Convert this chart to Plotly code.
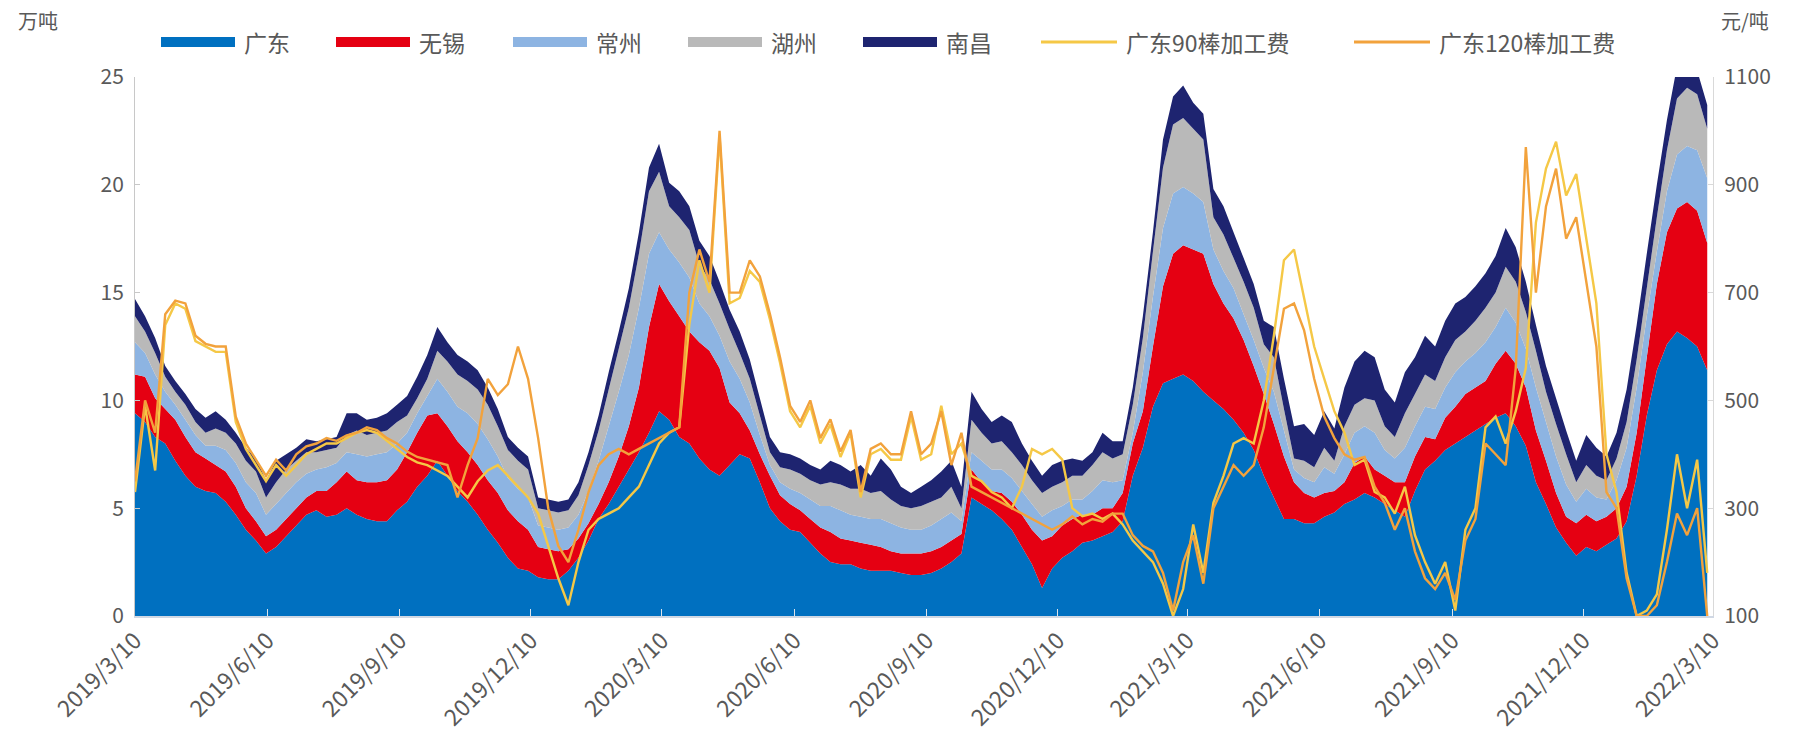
import pandas as pd
import plotly.graph_objects as go

# Weekly observation dates
weeks = pd.date_range("2019-03-10", periods=157, freq="7D")

# Inventory by region, 万吨 (stacked areas, bottom to top)
guangdong = [
    9.4, 9.0, 8.3, 8.0, 7.2, 6.5, 6.0, 5.8, 5.7, 5.3,
    4.7, 4.0, 3.5, 2.9, 3.2, 3.7, 4.2, 4.7, 4.9, 4.6,
    4.7, 5.0, 4.7, 4.5, 4.4, 4.4, 4.9, 5.3, 6.0, 6.5,
    7.2, 6.5, 5.8, 5.3, 4.7, 4.0, 3.4, 2.7, 2.2, 2.1,
    1.8, 1.7, 1.7, 2.1, 2.7, 3.5, 4.5, 5.2, 6.0, 6.8,
    7.6, 8.5, 9.5, 9.1, 8.3, 8.0, 7.3, 6.8, 6.5, 7.0,
    7.5, 7.3, 6.2, 5.0, 4.4, 4.0, 3.9, 3.4, 2.9, 2.5,
    2.4, 2.4, 2.2, 2.1, 2.1, 2.1, 2.0, 1.9, 1.9, 2.0,
    2.2, 2.5, 2.9, 5.5, 5.2, 4.9, 4.5, 4.0, 3.2, 2.4,
    1.3, 2.2, 2.7, 3.0, 3.4, 3.5, 3.7, 3.9, 4.4, 6.5,
    7.8, 9.7, 10.8, 11.0, 11.2, 10.9, 10.4, 10.0, 9.6, 9.1,
    8.5, 7.7, 6.5, 5.5, 4.5, 4.5, 4.3, 4.3, 4.6, 4.8,
    5.2, 5.4, 5.7, 5.5, 5.2, 4.9, 4.6, 5.8, 6.8, 7.2,
    7.7, 8.0, 8.3, 8.6, 8.9, 9.2, 9.4, 8.8, 7.9, 6.2,
    5.2, 4.1, 3.4, 2.8, 3.2, 3.0, 3.3, 3.6, 4.4, 6.5,
    9.3, 11.4, 12.6, 13.2, 12.9, 12.5, 11.4,
]
wuxi = [
    1.8, 2.1, 1.8, 1.6, 1.9, 1.8, 1.6, 1.5, 1.3, 1.4,
    1.3, 1.0, 0.9, 0.8, 0.8, 0.8, 0.8, 0.8, 0.9, 1.2,
    1.5, 1.7, 1.6, 1.7, 1.8, 1.9, 1.9, 2.3, 2.5, 2.8,
    2.2, 2.3, 2.3, 2.3, 2.3, 2.3, 2.3, 2.2, 2.2, 1.9,
    1.4, 1.4, 1.3, 1.0, 0.9, 0.8, 0.7, 1.0, 1.4, 2.0,
    3.0, 4.9, 5.9, 5.5, 5.6, 5.2, 5.4, 5.5, 5.0, 2.9,
    1.9, 1.3, 1.3, 1.5, 1.2, 1.2, 1.0, 1.1, 1.2, 1.4,
    1.2, 1.1, 1.2, 1.2, 1.1, 0.9, 0.9, 1.0, 1.0, 1.0,
    1.0, 1.0, 0.9, 1.3, 1.0, 0.9, 1.2, 1.3, 1.5, 1.6,
    2.2, 1.5, 1.5, 1.5, 1.3, 1.2, 1.3, 1.1, 1.3, 1.5,
    1.7, 2.8, 4.5, 5.8, 6.0, 6.1, 6.4, 5.4, 4.9, 4.7,
    4.3, 3.9, 3.8, 3.4, 2.9, 1.7, 1.4, 1.2, 1.1, 1.0,
    1.0, 1.7, 1.7, 1.3, 1.3, 1.3, 1.6, 1.6, 1.5, 1.0,
    1.5, 1.7, 2.0, 2.0, 2.0, 2.5, 2.9, 2.9, 2.7, 2.4,
    2.0, 1.6, 1.2, 1.5, 1.5, 1.4, 1.3, 1.4, 1.6, 2.0,
    2.7, 4.0, 5.2, 5.7, 6.3, 6.3, 5.9,
]
changzhou = [
    1.5, 1.1, 1.1, 0.8, 0.7, 0.8, 0.8, 0.6, 0.9, 1.0,
    1.1, 1.2, 1.3, 1.0, 1.2, 1.2, 1.2, 1.1, 1.0, 1.1,
    0.9, 0.9, 1.2, 1.2, 1.3, 1.3, 1.2, 0.9, 0.9, 0.9,
    1.6, 1.6, 1.6, 1.8, 1.9, 1.9, 1.7, 1.5, 1.5, 1.5,
    1.0, 1.0, 1.0, 1.0, 1.1, 1.5, 2.0, 2.6, 3.0, 3.3,
    3.7, 3.4, 2.4, 2.4, 2.5, 2.5, 1.8, 1.6, 1.5, 1.9,
    1.6, 1.3, 0.9, 0.5, 0.6, 0.7, 0.8, 0.9, 1.0, 1.2,
    1.3, 1.2, 1.2, 1.2, 1.3, 1.3, 1.2, 1.1, 1.1, 1.2,
    1.3, 1.3, 0.6, 0.8, 1.0, 1.0, 1.1, 1.1, 1.1, 1.2,
    1.1, 1.2, 0.9, 0.9, 0.7, 1.1, 1.3, 1.2, 0.6, 0.5,
    1.8, 2.3, 2.7, 2.8, 2.7, 2.6, 2.4, 1.6, 1.5, 1.4,
    1.2, 1.2, 1.2, 1.5, 1.2, 0.6, 0.7, 0.7, 1.2, 0.8,
    1.3, 1.4, 1.4, 1.7, 1.2, 1.1, 1.6, 1.4, 1.4, 1.4,
    1.4, 1.6, 1.5, 1.6, 1.8, 1.7, 2.0, 1.9, 1.8, 2.0,
    1.8, 1.7, 1.5, 1.0, 1.2, 1.1, 0.8, 1.3, 1.8, 2.1,
    1.9, 1.5, 1.9, 2.5, 2.6, 2.8, 3.0,
]
huzhou = [
    1.2, 1.0, 1.0, 0.7, 0.6, 0.7, 0.6, 0.6, 0.8, 0.8,
    0.9, 1.0, 1.0, 0.8, 1.0, 1.1, 1.0, 1.0, 0.8, 0.8,
    0.7, 0.8, 1.1, 1.0, 1.0, 1.0, 1.0, 0.8, 0.7, 0.8,
    1.3, 1.4, 1.5, 1.5, 1.6, 1.6, 1.4, 1.3, 1.3, 1.3,
    0.8, 0.8, 0.8, 0.8, 0.9, 1.2, 1.4, 1.7, 2.0, 2.2,
    2.5, 2.9, 2.8, 2.0, 2.1, 2.2, 1.8, 1.7, 1.5, 1.5,
    1.2, 1.1, 0.9, 0.6, 0.7, 0.9, 0.9, 0.9, 1.0, 1.1,
    1.2, 1.2, 1.3, 1.2, 1.3, 1.1, 1.0, 1.0, 1.1, 1.1,
    1.0, 1.2, 0.6, 1.5, 1.3, 1.2, 1.3, 1.2, 1.2, 1.1,
    1.1, 1.1, 1.1, 1.1, 1.1, 1.2, 1.3, 1.1, 1.2, 1.3,
    1.6, 2.1, 2.8, 3.2, 3.2, 3.0, 2.9, 1.5, 1.7, 1.4,
    1.5, 1.5, 1.1, 1.6, 1.0, 0.5, 0.8, 0.7, 0.9, 0.6,
    1.3, 1.3, 1.3, 1.5, 1.1, 1.0, 1.6, 1.5, 1.5, 1.3,
    1.4, 1.5, 1.4, 1.5, 1.6, 1.6, 1.9, 1.9, 1.7, 1.7,
    1.4, 1.5, 1.4, 0.9, 1.1, 1.0, 0.9, 1.0, 1.2, 1.3,
    1.3, 1.6, 1.9, 2.6, 2.7, 2.6, 2.3,
]
nanchang = [
    0.8, 0.7, 0.7, 0.5, 0.5, 0.5, 0.6, 0.7, 0.8, 0.6,
    0.5, 0.6, 0.6, 0.8, 1.0, 0.7, 0.6, 0.6, 0.5, 0.5,
    0.5, 1.0, 0.8, 0.7, 0.7, 0.8, 0.8, 0.9, 1.0, 1.1,
    1.1, 0.9, 0.9, 0.9, 0.9, 0.8, 0.8, 0.6, 0.6, 0.6,
    0.5, 0.5, 0.5, 0.5, 0.6, 0.6, 0.7, 0.8, 0.8, 0.9,
    1.0, 1.1, 1.3, 1.1, 1.2, 1.1, 1.1, 1.1, 1.0, 0.9,
    1.0, 0.9, 0.8, 0.7, 0.7, 0.7, 0.7, 0.7, 0.7, 1.0,
    0.9, 0.8, 1.1, 0.8, 1.5, 1.4, 0.9, 0.7, 0.9, 1.0,
    1.2, 1.2, 1.0, 1.3, 1.1, 1.0, 1.2, 1.4, 1.0, 0.9,
    0.8, 1.0, 1.0, 0.8, 0.7, 0.6, 0.9, 0.8, 0.6, 0.8,
    1.0, 0.9, 1.3, 1.3, 1.5, 1.2, 1.2, 1.3, 1.3, 1.2,
    1.1, 1.1, 1.1, 1.4, 1.4, 1.5, 1.7, 1.5, 1.7, 1.5,
    1.8, 2.0, 2.2, 2.0, 1.7, 1.6, 1.9, 1.7, 1.8, 1.6,
    1.7, 1.7, 1.6, 1.6, 1.6, 1.7, 1.8, 1.6, 1.4, 1.2,
    1.2, 1.2, 1.1, 1.0, 1.4, 1.3, 1.1, 1.2, 1.5, 1.6,
    1.6, 1.5, 1.4, 1.5, 1.3, 1.1, 1.1,
]

# Processing fees, 元/吨 (right axis)
fee_90 = [
    330, 490, 370, 640, 680, 670, 610, 600, 590, 590, 460, 410, 380, 350, 380, 360,
    380, 400, 410, 420, 420, 430, 440, 445, 440, 425, 410, 395, 385, 380, 370, 360, 340, 320,
    350, 370, 380, 360, 340, 320, 290, 230, 170, 120, 200, 260, 280, 290, 300, 320, 340, 380, 420,
    440, 450, 640, 760, 700, 990, 680, 690, 740, 720, 650, 570, 480, 450, 490, 420, 455, 395, 440,
    320, 400, 410, 390, 390, 470, 390, 400,
    490, 400, 420, 360, 350, 330, 320, 300, 340, 410, 400, 410, 390, 300, 285, 290, 280, 290,
    270, 240, 220, 200, 160, 100, 150,
    270, 180, 310, 360, 420, 430, 420, 500, 620, 760, 780, 690, 600, 540, 480, 440, 380, 390,
    330, 320, 290, 340, 250, 200, 160, 200, 110, 260, 300, 450, 470, 420,
    480, 560, 830, 930, 980, 880, 920, 800, 680, 400, 330, 180, 100, 110, 140, 260, 400, 300,
    390, 180,
]
fee_120 = [
    350, 500, 440, 660, 685, 680, 620, 605, 600, 600, 470, 420, 390, 360, 390, 370,
    400, 415, 420, 430, 425, 435, 440, 450, 445, 430, 420, 405, 395, 390, 385, 380, 320, 380,
    430, 540, 510, 530, 600, 540, 430, 300, 230, 200, 260, 330, 380, 400, 410, 400, 410, 420, 430,
    440, 450, 700, 780, 720, 1000, 700, 700, 760, 730, 660, 580, 490, 460, 500, 430, 465, 405, 445,
    330, 410, 420, 400, 400, 480, 400, 420,
    480, 380, 440, 340, 330, 320, 310, 300, 290, 280, 270, 260, 270, 285, 270, 280, 275, 290,
    290, 250, 230, 220, 180, 110, 200,
    250, 160, 300, 340, 380, 360, 380, 450, 560, 670, 680, 630, 540, 470, 430, 400, 390, 395,
    340, 310, 260, 300, 220, 170, 150, 180, 130, 240, 280, 420, 400, 380,
    560, 970, 700, 860, 930, 800, 840, 720, 600, 330, 300, 170, 100, 100, 120, 200, 290, 250,
    300, 100,
]

tick_dates = ["2019-03-10", "2019-06-10", "2019-09-10", "2019-12-10", "2020-03-10",
              "2020-06-10", "2020-09-10", "2020-12-10", "2021-03-10", "2021-06-10",
              "2021-09-10", "2021-12-10", "2022-03-10"]
tick_labels = ["2019/3/10", "2019/6/10", "2019/9/10", "2019/12/10", "2020/3/10",
               "2020/6/10", "2020/9/10", "2020/12/10", "2021/3/10", "2021/6/10",
               "2021/9/10", "2021/12/10", "2022/3/10"]

stock_series = [
    ("广东", guangdong, "#0070C0"),
    ("无锡", wuxi, "#E50012"),
    ("常州", changzhou, "#8DB4E2"),
    ("湖州", huzhou, "#B9B9B9"),
    ("南昌", nanchang, "#1E2470"),
]
fee_series = [
    ("广东90棒加工费", fee_90, "#F5C846"),
    ("广东120棒加工费", fee_120, "#F2A23C"),
]

FONT = "Noto Sans CJK SC, Noto Sans, sans-serif"
GREY = "#595959"

# Canvas and plot-area geometry in pixels
W, H = 1799, 747
PL, PR, PT, PB = 135, 1713, 77, 616


def px_x(px):
    return (px - PL) / (PR - PL)


def px_y(py):
    return (PB - py) / (PB - PT)


fig = go.Figure()
for name, vals, color in stock_series:
    fig.add_trace(go.Scatter(
        x=weeks, y=vals, name=name, mode="none", stackgroup="stock",
        fillcolor=color, showlegend=False,
    ))
for name, vals, color in fee_series:
    fig.add_trace(go.Scatter(
        x=weeks, y=vals, name=name, mode="lines", yaxis="y2",
        line=dict(color=color, width=2.4), showlegend=False,
    ))

# Legend row drawn across the top
legend_left = [161, 336, 513, 688, 863, 1041, 1354]
legend_cy = 42
shapes, annotations = [], []
entries = [(n, c, "area") for n, _, c in stock_series] + [(n, c, "line") for n, _, c in fee_series]
for (name, color, kind), x0 in zip(entries, legend_left):
    sw = 74 if kind == "area" else 76
    if kind == "area":
        shapes.append(dict(type="rect", xref="paper", yref="paper",
                           x0=px_x(x0), x1=px_x(x0 + sw),
                           y0=px_y(legend_cy + 5), y1=px_y(legend_cy - 5),
                           fillcolor=color, line=dict(width=0)))
    else:
        shapes.append(dict(type="line", xref="paper", yref="paper",
                           x0=px_x(x0), x1=px_x(x0 + sw),
                           y0=px_y(legend_cy), y1=px_y(legend_cy),
                           line=dict(color=color, width=3)))
    annotations.append(dict(text=name, xref="paper", yref="paper",
                            x=px_x(x0 + sw + 7), y=px_y(legend_cy),
                            xanchor="left", yanchor="middle", showarrow=False,
                            font=dict(size=23, color=GREY, family=FONT)))

annotations.append(dict(text="万吨", xref="paper", yref="paper", x=px_x(38), y=px_y(21),
                        xanchor="center", yanchor="middle", showarrow=False,
                        font=dict(size=20, color=GREY, family=FONT)))
annotations.append(dict(text="元/吨", xref="paper", yref="paper", x=px_x(1745), y=px_y(21),
                        xanchor="center", yanchor="middle", showarrow=False,
                        font=dict(size=20, color=GREY, family=FONT)))

fig.update_layout(
    width=W, height=H,
    margin=dict(l=PL, r=W - PR, t=PT, b=H - PB, pad=0),
    plot_bgcolor="white", paper_bgcolor="white",
    font=dict(family=FONT, color=GREY, size=20),
    shapes=shapes, annotations=annotations,
    xaxis=dict(
        type="date", range=["2019-03-10", "2022-03-10"],
        tickvals=tick_dates, ticktext=tick_labels, tickangle=-45,
        showgrid=False, zeroline=False,
        showline=True, linecolor="#D0D8E4", linewidth=2,
        ticks="inside", ticklen=7, tickcolor="#DDE3EA", tickwidth=1,
        tickfont=dict(size=23, color=GREY, family=FONT),
    ),
    yaxis=dict(
        range=[0, 25], tickvals=[0, 5, 10, 15, 20, 25],
        showgrid=False, zeroline=False,
        showline=True, linecolor="#C8C8C8", linewidth=1,
        ticks="inside", ticklen=5, tickcolor="#C8C8C8",
        ticklabelstandoff=6,
        tickfont=dict(size=21, color=GREY, family=FONT),
    ),
    yaxis2=dict(
        overlaying="y", side="right", range=[100, 1100],
        tickvals=[100, 300, 500, 700, 900, 1100],
        showgrid=False, zeroline=False,
        showline=True, linecolor="#D9D9D9", linewidth=1,
        ticks="inside", ticklen=5, tickcolor="#D9D9D9",
        ticklabelstandoff=6,
        tickfont=dict(size=21, color=GREY, family=FONT),
    ),
)

fig.write_html("out.html")
